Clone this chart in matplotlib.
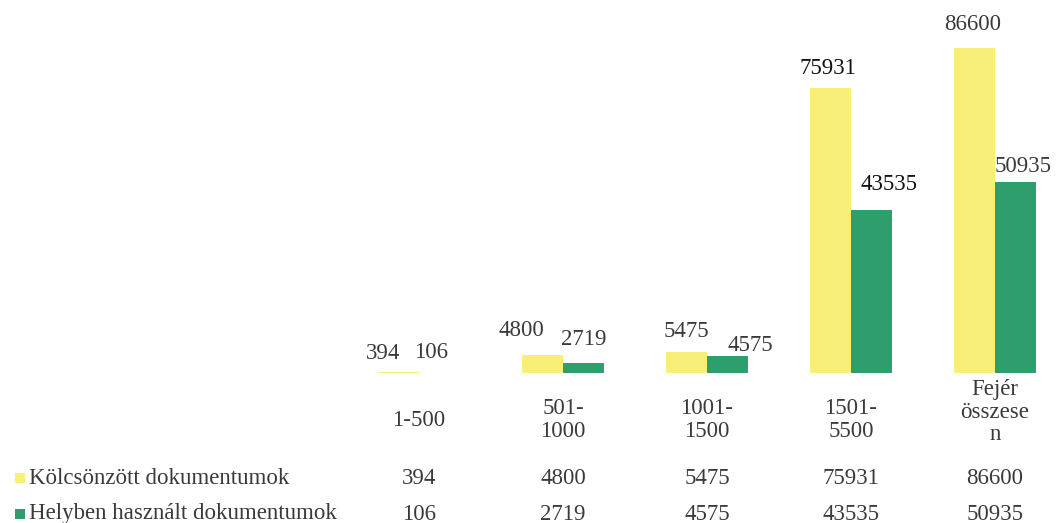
import matplotlib
matplotlib.use("Agg")
import matplotlib.pyplot as plt
import matplotlib.transforms as mtransforms
import numpy as np

categories = ["1-500", "501-\n1000", "1001-\n1500", "1501-\n5500", "Fejér\nösszese\nn"]
series_names = ["Kölcsönzött dokumentumok", "Helyben használt dokumentumok"]
kolcsonzott = [394, 4800, 5475, 75931, 86600]
helyben = [106, 2719, 4575, 43535, 50935]

yellow = "#F7EF78"
green = "#2E9F6C"
text_col = "#3a3a3a"
FS = 16.5

plt.rcParams['font.family'] = ['Liberation Serif', 'DejaVu Serif']

W, H = 1058, 523
fig = plt.figure(figsize=(W / 100, H / 100), dpi=100)

# axes: baseline at y=373px, 86600 top at ~48px
ax_left, ax_right = 347, 1058
ax_bottom_px, ax_top_px = 373, 20
ax = fig.add_axes([ax_left / W, 1 - ax_bottom_px / H,
                   (ax_right - ax_left) / W, (ax_bottom_px - ax_top_px) / H])
cat_w = 144.0
ax.set_xlim(-0.5, -0.5 + (ax_right - ax_left) / cat_w)
ymax_val = max(kolcsonzott) * (ax_bottom_px - ax_top_px) / (373 - 48)
ax.set_ylim(0, ymax_val)
ax.axis("off")

x = np.arange(len(categories))
bw = 0.285
b1 = ax.bar(x - bw / 2, kolcsonzott, bw, color=yellow, linewidth=0)
b2 = ax.bar(x + bw / 2, helyben, bw, color=green, linewidth=0)

# label offsets in pixels (dx, dy) — styling only
off1 = [(-15, 18), (-21, 24), (0, 21), (-3, 20), (-2, 23)]
off2 = [(-8, 20), (0, 23), (23, 10), (17, 25), (8, 15)]
col1 = [text_col, text_col, text_col, "#111111", text_col]
col2 = [text_col, text_col, text_col, "#111111", text_col]
for i, (v1, v2) in enumerate(zip(kolcsonzott, helyben)):
    ax.annotate(str(v1), (x[i] - bw / 2, v1), xytext=off1[i], textcoords="offset pixels",
                ha="center", va="center", fontsize=FS, color=col1[i])
    ax.annotate(str(v2), (x[i] + bw / 2, v2), xytext=off2[i], textcoords="offset pixels",
                ha="center", va="center", fontsize=FS, color=col2[i])

# table below
trans = mtransforms.blended_transform_factory(ax.transData, fig.transFigure)
def fy(px):
    return 1 - px / H

cat_y = [420, 420, 420, 420, 412]
for i, c in enumerate(categories):
    fig.text(x[i], fy(cat_y[i]), c, transform=trans, ha="center", va="center",
             fontsize=FS, color=text_col, linespacing=1.12)

row_y = [478, 514]
for r, (vals, col) in enumerate([(kolcsonzott, yellow), (helyben, green)]):
    for i, v in enumerate(vals):
        fig.text(x[i], fy(row_y[r]), str(v), transform=trans, ha="center", va="center",
                 fontsize=FS, color=text_col)
    fig.patches.append(plt.Rectangle((15 / W, fy(row_y[r] + 5)), 10 / W, 10 / H,
                                     transform=fig.transFigure, color=col, linewidth=0))
    fig.text(29 / W, fy(row_y[r]), series_names[r], ha="left", va="center",
             fontsize=FS, color=text_col)

fig.savefig("out.png", dpi=100, facecolor="white")
